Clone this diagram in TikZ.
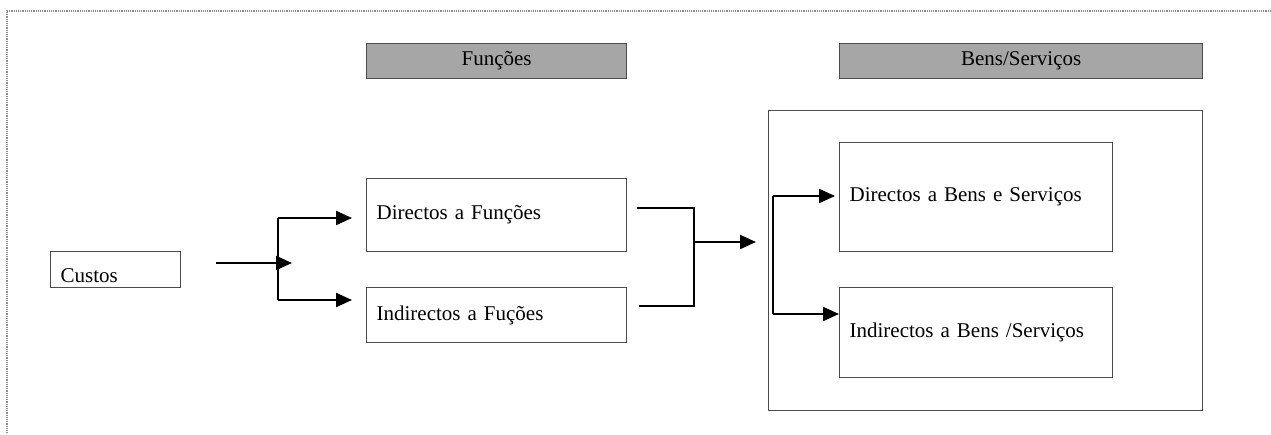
\documentclass[tikz,border=0pt]{standalone}
\usepackage{fontspec}
\setmainfont{Liberation Serif}
\usetikzlibrary{arrows.meta,positioning}

\begin{document}
\begin{tikzpicture}[x=1pt,y=-1pt,>={Triangle[length=16pt,width=14pt]},line width=2.2pt,
  cost box/.style={draw=black!70,line width=1.3pt,anchor=north west,inner xsep=10pt,inner ysep=0pt,
    align=left,font=\fontsize{21}{24}\selectfont},
  head box/.style={cost box,fill=black!35,align=center,inner xsep=0pt}]

  \useasboundingbox (0,0) rectangle (1271,434);
  \draw[black!45,densely dotted,line width=1.2pt] (1271,11) -- (7,11) -- (7,434);

  \node[head box,text width=260pt,minimum height=35pt] (hf) at (366,43) {Funções};
  \node[head box,text width=363pt,minimum height=35pt] (hb) at (839,43) {Bens/Serviços};

  \node[cost box,text width=110pt,minimum height=36pt] (cust) at (50,251) {\raisebox{-13pt}[0pt][0pt]{Custos}};
  \node[cost box,text width=240pt,minimum height=73pt] (fdir) at (366,178) {Directos a Funções};
  \node[cost box,text width=240pt,minimum height=55pt] (find) at (366,287) {Indirectos a Fuções};
  \node[cost box,minimum width=434pt,minimum height=300pt] (outer) at (768,110) {};
  \node[cost box,text width=253pt,minimum height=109pt] (bdir) at (839,142) {Directos a Bens e Serviços};
  \node[cost box,text width=253pt,minimum height=90pt] (bind) at (839,287) {Indirectos a Bens /Serviços};

  % split after Custos
  \coordinate (c0) at (216,263);
  \coordinate (c1) at (292,263);
  \coordinate (sa) at (278,218);
  \coordinate (sb) at (278,300);
  \draw[->] (c0) -- (c1);
  \draw (sa) -- (sb);
  \draw[->,shorten >=14pt] (sa) -- (sa -| fdir.west);
  \draw[->,shorten >=14pt] (sb) -- (sb -| find.west);

  % join after Funcoes
  \coordinate (ma) at (694,208);
  \coordinate (mb) at (694,306);
  \coordinate (mm) at (694,242);
  \draw[shorten <=10pt,shorten >=12pt] (ma -| fdir.east) -- (ma) -- (mb) -- (mb -| find.east);
  \draw[->,shorten >=12pt] (mm) -- (mm -| outer.west);

  % split inside Bens/Servicos
  \coordinate (na) at (773,196);
  \coordinate (nb) at (773,314);
  \draw (na) -- (nb);
  \draw[->,shorten >=4pt] (na) -- (na -| bdir.west);
  \draw[->] (nb) -- (nb -| bind.west);
\end{tikzpicture}
\end{document}
